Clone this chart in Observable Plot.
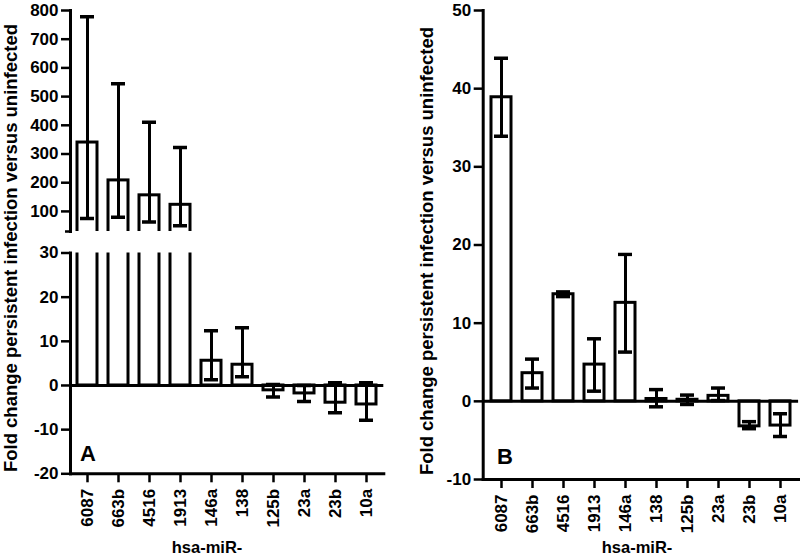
<!DOCTYPE html>
<html><head><meta charset="utf-8">
<script src="https://cdn.jsdelivr.net/npm/d3@7"></script>
<script src="https://cdn.jsdelivr.net/npm/@observablehq/plot@0.6"></script>
<style>
body{margin:0;background:#fff;}
#wrap{position:relative;width:800px;height:558px;overflow:hidden;font-family:"Liberation Sans",Arial,sans-serif;font-weight:bold;color:#000;background:#fff;}
#wrap svg{position:absolute;top:0;}
.t{position:absolute;white-space:nowrap;line-height:1;}
.ytitle{font-size:18.5px;transform:translate(-50%,-50%) rotate(-90deg);}
.xtitle{font-size:16.5px;transform:translateX(-50%);}
.plab{font-size:22px;}
</style></head><body><div id="wrap"></div>
<script>
const categories = ["6087","663b","4516","1913","146a","138","125b","23a","23b","10a"];
// Panel A: mean and error range
const valuesA = [340, 208, 156, 123, 5.6, 4.7, -1.1, -1.8, -3.9, -4.3];
const lowA    = [75, 80, 63, 50, 1.3, 2.0, -2.6, -3.6, -6.2, -7.9];
const highA   = [778, 545, 411, 323, 12.4, 13.1, 0.2, 0, 0.6, 0.6];
// Panel B
const valuesB = [38.9, 3.6, 13.7, 4.7, 12.6, 0.3, 0.2, 0.7, -3.2, -3.1];
const lowB    = [33.9, 1.7, 13.4, 1.3, 6.3, -0.7, -0.4, 0.1, -3.5, -4.5];
const highB   = [43.9, 5.4, 14.0, 8.0, 18.8, 1.5, 0.8, 1.7, -2.6, -1.6];
const ticksATop = [100, 200, 300, 400, 500, 600, 700, 800];
const ticksABottom = [-20, -10, 0, 10, 20, 30];
const ticksB = [-10, 0, 10, 20, 30, 40, 50];
const domainATop = [30, 800];
const domainABottom = [-20, 30];
const domainB = [-10, 50];
const yTitle = "Fold change persistent infection versus uninfected";
const xTitle = "hsa-miR-";
const panelLabels = ["A", "B"];

function rows(vals, lows, highs) {
  return categories.map((c, i) => ({cat: c, value: vals[i], low: lows[i], high: highs[i]}));
}

function panel(o) {
  const data = rows(o.vals, o.lows, o.highs);
  const font = {fontSize: 17, fontWeight: "bold"};
  const marks = [
    Plot.barY(data, {x: "cat", y1: 0, y2: "value", fill: "white", stroke: "black", strokeWidth: 3, clip: true}),
    Plot.ruleX(data, {x: "cat", y1: "low", y2: "high", stroke: "black", strokeWidth: 3, clip: true}),
    Plot.tickY(data, {x: "cat", y: "low", stroke: "black", strokeWidth: 3.5, insetLeft: 3, insetRight: 3, clip: true}),
    Plot.tickY(data, {x: "cat", y: "high", stroke: "black", strokeWidth: 3.5, insetLeft: 3, insetRight: 3, clip: true}),
    Plot.axisY({ticks: o.ticks, tickSize: 9, tickPadding: 3, strokeWidth: 2.5, tickFormat: d => String(d), label: null, ...font}),
    Plot.frame({anchor: "left", stroke: "black", strokeWidth: 3})
  ];
  if (o.stub) marks.push(Plot.axisY({ticks: o.stub, tickSize: 5, strokeWidth: 2.5, tickFormat: () => "", label: null}));
  if (o.zero) marks.push(Plot.ruleY([0], {stroke: "black", strokeWidth: 3}));
  if (o.xaxis) marks.push(
    Plot.axisX({tickSize: 9, tickPadding: 6, tickRotate: -90, strokeWidth: 2.5, label: null, ...font}),
    Plot.frame({anchor: "bottom", stroke: "black", strokeWidth: 3})
  );
  const xs = {domain: categories, paddingInner: 0.35, paddingOuter: o.po};
  if (!o.xaxis) xs.axis = null;
  const svg = Plot.plot({
    width: o.width, height: 558,
    marginTop: o.mt, marginBottom: o.mb, marginLeft: o.ml, marginRight: o.mr,
    x: xs,
    y: {domain: o.domain, label: null},
    style: {background: "transparent", color: "black", fontFamily: "'Liberation Sans', Arial, sans-serif", fontSize: "17px", fontWeight: "bold", overflow: "visible"},
    marks
  });
  svg.style.left = o.left + "px";
  return svg;
}

const wrap = document.getElementById("wrap");
wrap.appendChild(panel({vals: valuesA, lows: lowA, highs: highA, domain: domainATop, ticks: ticksATop, stub: [30],
  width: 400, left: 0, mt: 10, mb: 327, ml: 70, mr: 16.7, po: 0.15, zero: false, xaxis: false}));
wrap.appendChild(panel({vals: valuesA, lows: lowA, highs: highA, domain: domainABottom, ticks: ticksABottom,
  width: 400, left: 0, mt: 252.5, mb: 84.7, ml: 70, mr: 16.7, po: 0.15, zero: true, xaxis: true}));
wrap.appendChild(panel({vals: valuesB, lows: lowB, highs: highB, domain: domainB, ticks: ticksB,
  width: 400, left: 400, mt: 10, mb: 79, ml: 82.7, mr: 1.9, po: 0.2, zero: true, xaxis: true}));

function addText(cls, txt, left, top) {
  const d = document.createElement("div");
  d.className = "t " + cls;
  d.textContent = txt;
  d.style.left = left + "px";
  d.style.top = top + "px";
  wrap.appendChild(d);
}
addText("ytitle", yTitle, 10.5, 248);
addText("ytitle", yTitle, 427, 251);
addText("xtitle", xTitle, 207, 539);
addText("xtitle", xTitle, 637, 539);
addText("plab", panelLabels[0], 80, 443.4);
addText("plab", panelLabels[1], 497, 446.4);
</script></body></html>
